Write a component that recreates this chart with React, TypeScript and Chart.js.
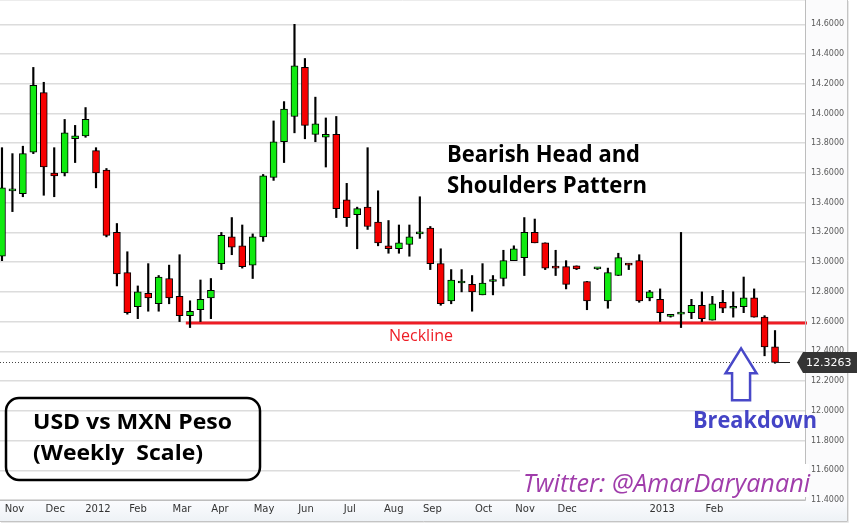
import React, { useEffect, useRef } from 'react';
import { Chart, registerables } from 'chart.js';
Chart.register(...registerables);

// Weekly USD/MXN candles (Nov 2011 - Feb 2013)
const opens = [13.04, 13.48, 13.46, 13.74, 14.14, 13.60, 13.60, 13.83, 13.85, 13.75, 13.62, 13.20, 12.93, 12.70, 12.79, 12.72, 12.89, 12.77, 12.64, 12.68, 12.76, 12.99, 13.17, 13.11, 12.98, 13.17, 13.57, 13.81, 13.98, 14.31, 13.86, 13.84, 13.86, 13.42, 13.32, 13.37, 13.27, 13.11, 13.09, 13.12, 13.19, 13.23, 12.99, 12.74, 12.86, 12.85, 12.78, 12.87, 12.89, 13.01, 13.03, 13.20, 13.13, 12.97, 12.97, 12.975, 12.87, 12.955, 12.74, 12.91, 12.99, 13.01, 12.76, 12.75, 12.635, 12.65, 12.66, 12.71, 12.61, 12.73, 12.69, 12.70, 12.76, 12.63, 12.43];
const highs = [13.77, 13.73, 13.78, 14.31, 14.21, 13.77, 13.96, 13.92, 14.04, 13.77, 13.63, 13.26, 13.07, 12.84, 12.99, 12.91, 12.98, 13.05, 12.74, 12.88, 12.89, 13.20, 13.30, 13.25, 13.19, 13.59, 13.95, 14.08, 14.60, 14.37, 14.11, 13.97, 13.98, 13.53, 13.37, 13.77, 13.48, 13.28, 13.25, 13.25, 13.44, 13.24, 13.09, 12.95, 12.95, 12.91, 12.99, 12.91, 13.08, 13.11, 13.30, 13.29, 13.13, 13.08, 13.01, 12.975, 12.87, 12.96, 12.96, 13.06, 12.99, 13.05, 12.81, 12.82, 12.645, 13.20, 12.75, 12.80, 12.77, 12.81, 12.80, 12.90, 12.82, 12.64, 12.54];
const lows = [13.01, 13.34, 13.44, 13.73, 13.45, 13.44, 13.58, 13.67, 13.84, 13.50, 13.17, 12.84, 12.65, 12.62, 12.67, 12.67, 12.72, 12.60, 12.56, 12.60, 12.62, 12.95, 13.05, 12.96, 12.89, 13.14, 13.55, 13.67, 13.87, 13.83, 13.81, 13.64, 13.30, 13.24, 13.09, 13.22, 13.11, 13.06, 13.06, 13.04, 13.16, 12.95, 12.71, 12.72, 12.80, 12.67, 12.78, 12.78, 12.84, 13.01, 12.91, 13.13, 12.95, 12.91, 12.82, 12.95, 12.68, 12.95, 12.69, 12.91, 12.95, 12.73, 12.74, 12.60, 12.63, 12.56, 12.62, 12.60, 12.61, 12.66, 12.63, 12.66, 12.63, 12.37, 12.32];
const closes = [13.50, 13.49, 13.73, 14.19, 13.64, 13.58, 13.87, 13.85, 13.96, 13.60, 13.18, 12.92, 12.66, 12.80, 12.76, 12.90, 12.76, 12.64, 12.67, 12.75, 12.81, 13.18, 13.10, 12.97, 13.17, 13.58, 13.81, 14.03, 14.32, 13.92, 13.93, 13.86, 13.36, 13.30, 13.36, 13.24, 13.13, 13.09, 13.13, 13.17, 13.20, 12.99, 12.72, 12.88, 12.87, 12.80, 12.86, 12.88, 13.01, 13.09, 13.20, 13.13, 12.96, 12.96, 12.85, 12.955, 12.74, 12.96, 12.93, 13.03, 12.98, 12.74, 12.80, 12.66, 12.64, 12.66, 12.71, 12.62, 12.72, 12.69, 12.70, 12.76, 12.63, 12.43, 12.3263];

// X-axis month labels and the (fractional) week index where each sits
const monthLabels = ['Nov', 'Dec', '2012', 'Feb', 'Mar', 'Apr', 'May', 'Jun', 'Jul', 'Aug', 'Sep', 'Oct', 'Nov', 'Dec', '2013', 'Feb'];
const monthTickWeeks = [1.2, 5.1, 9.19, 13.02, 17.23, 20.87, 25.08, 29.1, 33.3, 37.5, 41.2, 46.1, 50.07, 54.1, 63.2, 68.2];

// Y-axis tick values
const yTicks = [11.4, 11.6, 11.8, 12.0, 12.2, 12.4, 12.6, 12.8, 13.0, 13.2, 13.4, 13.6, 13.8, 14.0, 14.2, 14.4, 14.6];

// Annotation levels
const necklineLevel = 12.59;
const necklineStartWeek = 17.6;
const arrowWeek = 70.75;
const arrowTipLevel = 12.42;

const GREEN = '#10ea10';
const RED = '#f60000';

function fitText(ctx: CanvasRenderingContext2D, text: string, x: number, baseline: number, font: string, color: string, width: number) {
  ctx.save();
  ctx.font = font;
  const w = ctx.measureText(text).width;
  ctx.translate(x, baseline);
  ctx.scale(width / w, 1);
  ctx.fillStyle = color;
  ctx.textBaseline = 'alphabetic';
  ctx.textAlign = 'left';
  ctx.fillText(text, 0, 0);
  ctx.restore();
}

const decor = {
  id: 'decor',
  beforeDraw(chart: any) {
    const { ctx, chartArea: a, width, height } = chart;
    ctx.save();
    ctx.fillStyle = '#ffffff';
    ctx.fillRect(0, 0, width, height);
    ctx.fillStyle = '#fbfbfc';
    ctx.fillRect(0, 0, 847, 521);
    const g = ctx.createLinearGradient(0, a.bottom, 0, 521);
    g.addColorStop(0, '#fbfcfe');
    g.addColorStop(1, '#eef2f6');
    ctx.fillStyle = g;
    ctx.fillRect(0, a.bottom, 847, 521 - a.bottom);
    ctx.fillStyle = '#ffffff';
    ctx.fillRect(a.left, a.top, a.right - a.left, a.bottom - a.top);
    ctx.strokeStyle = '#c4c4c4';
    ctx.lineWidth = 1;
    ctx.beginPath();
    ctx.moveTo(847.5, 0);
    ctx.lineTo(847.5, 521.5);
    ctx.lineTo(0, 521.5);
    ctx.stroke();
    ctx.strokeStyle = '#e8e8e8';
    ctx.beginPath();
    ctx.moveTo(848.5, 1);
    ctx.lineTo(848.5, 522.5);
    ctx.lineTo(1, 522.5);
    ctx.stroke();
    ctx.strokeStyle = '#ececec';
    ctx.beginPath();
    ctx.moveTo(a.left, 0.5);
    ctx.lineTo(a.right, 0.5);
    ctx.stroke();
    ctx.restore();
  },
  beforeDatasetsDraw(chart: any) {
    const { ctx, chartArea: a, scales } = chart;
    const y = scales.y.getPixelForValue(necklineLevel);
    const x0 = scales.x.getPixelForValue(necklineStartWeek);
    ctx.save();
    ctx.strokeStyle = '#ee1d25';
    ctx.lineWidth = 3;
    ctx.beginPath();
    ctx.moveTo(x0, y);
    ctx.lineTo(a.right + 2, y);
    ctx.stroke();
    ctx.restore();
  },
  afterDatasetsDraw(chart: any) {
    const { ctx, chartArea: a } = chart;
    ctx.save();
    ctx.strokeStyle = '#bdbdbd';
    ctx.lineWidth = 1;
    ctx.beginPath();
    ctx.moveTo(a.right + 0.5, a.top);
    ctx.lineTo(a.right + 0.5, a.bottom + 0.5);
    ctx.lineTo(a.left, a.bottom + 0.5);
    ctx.stroke();
    ctx.restore();
  },
  afterDraw(chart: any) {
    const { ctx, chartArea: a, scales, width } = chart;
    const xs = scales.x;
    const ys = scales.y;
    const last = closes[closes.length - 1];
    const lastX = xs.getPixelForValue(closes.length - 1);
    const py = Math.round(ys.getPixelForValue(last)) + 0.5;
    ctx.save();
    // current price dotted line
    ctx.strokeStyle = '#444';
    ctx.lineWidth = 1;
    ctx.setLineDash([1, 2]);
    ctx.beginPath();
    ctx.moveTo(a.left, py);
    ctx.lineTo(lastX - 4, py);
    ctx.stroke();
    ctx.setLineDash([]);
    ctx.strokeStyle = '#222';
    ctx.beginPath();
    ctx.moveTo(lastX, py);
    ctx.lineTo(lastX + 15, py);
    ctx.stroke();
    // price box
    ctx.fillStyle = '#353535';
    ctx.beginPath();
    ctx.moveTo(a.right - 8, py);
    ctx.lineTo(a.right - 2, py - 10.5);
    ctx.lineTo(width, py - 10.5);
    ctx.lineTo(width, py + 10.5);
    ctx.lineTo(a.right - 2, py + 10.5);
    ctx.closePath();
    ctx.fill();
    ctx.fillStyle = '#ffffff';
    ctx.font = '11px "DejaVu Sans"';
    ctx.textAlign = 'left';
    ctx.textBaseline = 'middle';
    ctx.fillText(last.toFixed(4), a.right + 1, py + 0.5);

    // Neckline label
    fitText(ctx, 'Neckline', 389, 341, '16px "Open Sans"', '#ee1d25', 64);

    // Pattern title
    fitText(ctx, 'Bearish Head and', 447, 162, 'bold 24px "Open Sans"', '#000', 193);
    fitText(ctx, 'Shoulders Pattern', 447, 193, 'bold 24px "Open Sans"', '#000', 200);

    // Breakout arrow
    const tx = xs.getPixelForValue(arrowWeek);
    const ty = ys.getPixelForValue(arrowTipLevel);
    ctx.beginPath();
    ctx.moveTo(tx, ty);
    ctx.lineTo(tx + 15.5, ty + 25);
    ctx.lineTo(tx + 9, ty + 25);
    ctx.lineTo(tx + 9, ty + 52);
    ctx.lineTo(tx - 9, ty + 52);
    ctx.lineTo(tx - 9, ty + 25);
    ctx.lineTo(tx - 15.5, ty + 25);
    ctx.closePath();
    ctx.fillStyle = '#ffffff';
    ctx.fill();
    ctx.strokeStyle = '#4848c8';
    ctx.lineWidth = 2.5;
    ctx.lineJoin = 'miter';
    ctx.stroke();
    fitText(ctx, 'Breakdown', 693, 428, 'bold 24px "Open Sans"', '#4444c6', 124);

    // Title box
    ctx.strokeStyle = '#000';
    ctx.lineWidth = 2.5;
    ctx.beginPath();
    if ((ctx as any).roundRect) {
      (ctx as any).roundRect(6, 398, 254, 82, 13);
    } else {
      ctx.rect(6, 398, 254, 82);
    }
    ctx.stroke();
    fitText(ctx, 'USD vs MXN Peso', 33, 429, 'bold 21px "Open Sans"', '#000', 199);
    fitText(ctx, '(Weekly  Scale)', 33, 460, 'bold 21px "Open Sans"', '#000', 170);

    // Twitter credit
    ctx.fillStyle = '#ffffff';
    ctx.fillRect(520, 464, 289, 33);
    fitText(ctx, 'Twitter: @AmarDaryanani', 523, 492, 'italic 26px "Open Sans"', '#a03dab', 287);
    ctx.restore();
  },
};

export default function App() {
  const ref = useRef<HTMLCanvasElement>(null);
  useEffect(() => {
    document.body.style.margin = '0';
    const bodies = closes.map((c, i) => ({ x: i, y: [opens[i], c] }));
    const wicks = closes.map((_, i) => ({ x: i, y: [lows[i], highs[i]] }));
    const colors = closes.map((c, i) => (c >= opens[i] ? GREEN : RED));
    const chart = new Chart(ref.current as HTMLCanvasElement, {
      type: 'bar',
      data: {
        datasets: [
          {
            label: 'body',
            data: bodies as any,
            backgroundColor: colors,
            borderColor: '#000',
            borderWidth: 1,
            borderSkipped: false,
            barThickness: 7,
            minBarLength: 2,
            grouped: false,
            order: 0,
          } as any,
          {
            label: 'wick',
            data: wicks as any,
            backgroundColor: '#000',
            borderWidth: 0,
            barThickness: 1.5,
            grouped: false,
            order: 1,
          } as any,
        ],
      },
      options: {
        responsive: false,
        animation: false,
        devicePixelRatio: 1,
        layout: { padding: 0 },
        plugins: { legend: { display: false }, tooltip: { enabled: false } },
        scales: {
          x: {
            type: 'linear',
            bounds: 'data',
            min: -0.19,
            max: 76.87,
            offset: false,
            grid: { display: false, drawTicks: false },
            border: { display: false },
            afterBuildTicks: (s: any) => {
              s.ticks = monthTickWeeks.map((v) => ({ value: v }));
            },
            afterFit: (s: any) => {
              s.height = 23;
              s.paddingLeft = 0;
              s.paddingRight = 0;
            },
            ticks: {
              autoSkip: false,
              maxRotation: 0,
              minRotation: 0,
              padding: 3,
              color: '#333',
              font: { family: 'DejaVu Sans', size: 10 },
              callback: (_v: any, i: number) => monthLabels[i],
            },
          },
          y: {
            type: 'linear',
            position: 'right',
            bounds: 'data',
            min: 11.4,
            max: 14.7635,
            grid: { color: '#dcdcdc', lineWidth: 1.5, drawTicks: false },
            border: { display: false },
            afterBuildTicks: (s: any) => {
              s.ticks = yTicks.map((v) => ({ value: v }));
            },
            afterFit: (s: any) => {
              s.width = 52;
              s.paddingTop = 0;
              s.paddingBottom = 0;
            },
            ticks: {
              padding: 6,
              color: '#5a5a5a',
              font: { family: 'DejaVu Sans', size: 8 },
              callback: (v: any) => Number(v).toFixed(4),
            },
          },
        },
      } as any,
      plugins: [decor as any],
    });
    return () => chart.destroy();
  }, []);
  return <canvas ref={ref} width={857} height={523} style={{ display: 'block', width: 857, height: 523 }} />;
}
